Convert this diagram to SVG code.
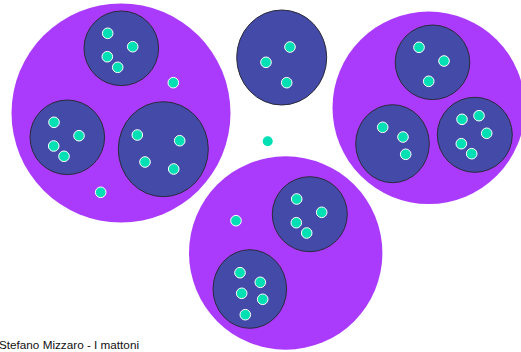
<svg xmlns="http://www.w3.org/2000/svg" width="521" height="352" viewBox="0 0 521 352">
<style>
.big{fill:#AA3BFC;stroke:none}
.cell{fill:#434AA7;stroke:#2a2a3a;stroke-width:1}
.dot{fill:#00E0B4;stroke:#ffffff;stroke-width:1}
.free{fill:#00E0B4;stroke:none}
.lbl{font-family:"Liberation Sans",Arial,sans-serif;font-size:11.5px;fill:#111111}
</style>
<rect width="521" height="352" fill="#ffffff"/>
<g id="group-left">
<circle class="big" cx="121" cy="113" r="109.5"/>
<g id="cell-left-top">
<circle class="cell" cx="121.3" cy="48.3" r="37.3"/>
<circle class="dot" cx="107.7" cy="33.3" r="5.3"/>
<circle class="dot" cx="132.7" cy="46.7" r="5.3"/>
<circle class="dot" cx="107.3" cy="56.7" r="5.3"/>
<circle class="dot" cx="117.7" cy="67.3" r="5.3"/>
</g>
<g id="cell-left-bl">
<circle class="cell" cx="67.3" cy="137.3" r="37.3"/>
<circle class="dot" cx="54" cy="122.3" r="5.3"/>
<circle class="dot" cx="79" cy="135.7" r="5.3"/>
<circle class="dot" cx="53.7" cy="146" r="5.3"/>
<circle class="dot" cx="64" cy="156.3" r="5.3"/>
</g>
<g id="cell-left-br">
<ellipse class="cell" cx="163.3" cy="149.2" rx="45" ry="47.5"/>
<circle class="dot" cx="137.3" cy="135" r="5.3"/>
<circle class="dot" cx="179.7" cy="140.7" r="5.3"/>
<circle class="dot" cx="145" cy="162" r="5.3"/>
<circle class="dot" cx="173.7" cy="169" r="5.3"/>
</g>
<circle class="dot" cx="173.3" cy="82.7" r="5.3"/>
<circle class="dot" cx="100.7" cy="192.3" r="5.3"/>
</g>
<g id="cell-middle">
<ellipse class="cell" cx="281.7" cy="57.5" rx="45" ry="47.5"/>
<circle class="dot" cx="290" cy="47" r="5.3"/>
<circle class="dot" cx="266" cy="62.3" r="5.3"/>
<circle class="dot" cx="286.7" cy="82.7" r="5.3"/>
</g>
<g id="free-dot">
<circle class="free" cx="267.7" cy="141.3" r="5"/>
</g>
<g id="group-right">
<circle class="big" cx="428.7" cy="107.8" r="96.2"/>
<g id="cell-right-top">
<circle class="cell" cx="432.5" cy="62.3" r="37.3"/>
<circle class="dot" cx="419" cy="47.3" r="5.3"/>
<circle class="dot" cx="444" cy="61" r="5.3"/>
<circle class="dot" cx="428.7" cy="81.3" r="5.3"/>
</g>
<g id="cell-right-bl">
<ellipse class="cell" cx="392.5" cy="143.7" rx="36.8" ry="39"/>
<circle class="dot" cx="382.7" cy="127.3" r="5.3"/>
<circle class="dot" cx="403" cy="137" r="5.3"/>
<circle class="dot" cx="405.7" cy="154.3" r="5.3"/>
</g>
<g id="cell-right-br">
<circle class="cell" cx="474.8" cy="134.8" r="37.5"/>
<circle class="dot" cx="462" cy="119.3" r="5.3"/>
<circle class="dot" cx="479" cy="115.7" r="5.3"/>
<circle class="dot" cx="486.7" cy="133.3" r="5.3"/>
<circle class="dot" cx="461.3" cy="143.7" r="5.3"/>
<circle class="dot" cx="471.7" cy="153.7" r="5.3"/>
</g>
</g>
<g id="group-bottom">
<circle class="big" cx="285.7" cy="253" r="96.7"/>
<g id="cell-bottom-tr">
<circle class="cell" cx="309.8" cy="214.2" r="37.5"/>
<circle class="dot" cx="296.7" cy="199" r="5.3"/>
<circle class="dot" cx="321.7" cy="212.3" r="5.3"/>
<circle class="dot" cx="296.3" cy="222.7" r="5.3"/>
<circle class="dot" cx="306.7" cy="233" r="5.3"/>
</g>
<g id="cell-bottom-bl">
<ellipse class="cell" cx="249.8" cy="289" rx="36.8" ry="39.3"/>
<circle class="dot" cx="240" cy="272.7" r="5.3"/>
<circle class="dot" cx="260.3" cy="282.3" r="5.3"/>
<circle class="dot" cx="241.7" cy="293.3" r="5.3"/>
<circle class="dot" cx="262.7" cy="299.3" r="5.3"/>
<circle class="dot" cx="245.3" cy="314.7" r="5.3"/>
</g>
<circle class="dot" cx="236" cy="220.7" r="5.3"/>
</g>
<g id="connectors"></g>
<text class="lbl" x="-1" y="348.5" textLength="140" lengthAdjust="spacingAndGlyphs">Stefano Mizzaro - I mattoni</text>
</svg>
